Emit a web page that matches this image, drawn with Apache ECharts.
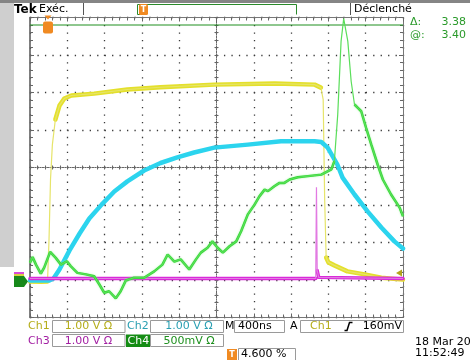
<!DOCTYPE html>
<html><head><meta charset="utf-8">
<script src="https://cdn.jsdelivr.net/npm/echarts@6/dist/echarts.min.js"></script>
<style>html,body{margin:0;padding:0;background:#fff}#c{width:470px;height:360px}</style>
</head><body><div id="c"></div>
<script>
// Screen coordinates in divisions from the graticule centre (x: -5..5, y: -4..4)
const ch1 = [[-5,-3.04],[-4.7,-3.05],[-4.53,-3.04],[-4.49,-1.92],[-4.45,-0.32],[-4.40,0.61],[-4.32,1.28],[-4.21,1.65],[-4.08,1.84],[-3.89,1.92],[-3.28,1.97],[-2.39,2.08],[-1.50,2.14],[-0.06,2.21],[1.56,2.24],[2.63,2.21],[2.80,2.13],[2.86,1.81],[2.90,-0.85],[2.94,-2.40],[3.0,-2.53],[3.16,-2.61],[3.51,-2.77],[3.97,-2.85],[4.42,-2.94],[5,-2.99]];
const ch2 = [[-5,-3.01],[-4.48,-3.01],[-4.37,-2.96],[-4.21,-2.72],[-3.94,-2.21],[-3.67,-1.76],[-3.41,-1.36],[-3.08,-0.99],[-2.74,-0.64],[-2.39,-0.37],[-1.94,-0.08],[-1.50,0.12],[-1.05,0.27],[-0.60,0.40],[-0.06,0.53],[0.84,0.61],[1.73,0.70],[2.63,0.70],[2.81,0.68],[2.98,0.53],[3.24,0.08],[3.38,-0.27],[3.70,-0.72],[4.05,-1.17],[4.42,-1.60],[4.77,-1.97],[5,-2.16]];
const ch3 = [[-5,-2.96],[2.66,-2.96],[2.68,-0.53],[2.70,-2.75],[2.74,-2.93],[5,-2.96]];
const ch4 = [[-5,-2.54],[-4.93,-2.39],[-4.84,-2.59],[-4.71,-2.83],[-4.62,-2.67],[-4.46,-2.25],[-4.31,-2.41],[-4.17,-2.59],[-4.01,-2.50],[-3.91,-2.63],[-3.73,-2.81],[-3.50,-2.85],[-3.28,-2.90],[-3.14,-3.12],[-3.01,-3.34],[-2.88,-3.30],[-2.70,-3.49],[-2.57,-3.30],[-2.43,-3.01],[-2.21,-2.94],[-1.94,-2.94],[-1.67,-2.77],[-1.45,-2.59],[-1.31,-2.32],[-1.13,-2.51],[-0.96,-2.45],[-0.73,-2.72],[-0.55,-2.45],[-0.42,-2.27],[-0.24,-2.14],[-0.11,-1.97],[0.03,-2.14],[0.17,-2.27],[0.35,-2.10],[0.53,-1.97],[0.66,-1.70],[0.84,-1.25],[1.02,-0.99],[1.15,-0.77],[1.29,-0.59],[1.38,-0.63],[1.55,-0.50],[1.69,-0.41],[1.82,-0.41],[1.96,-0.32],[2.18,-0.26],[2.45,-0.23],[2.81,-0.19],[3.08,-0.05],[3.16,0.17],[3.25,1.41],[3.34,3.37],[3.41,3.97],[3.52,3.37],[3.61,2.30],[3.70,1.68],[3.79,1.59],[3.88,1.50],[4.01,1.06],[4.15,0.61],[4.32,0.08],[4.46,-0.32],[4.68,-0.72],[4.91,-1.07],[5,-1.30]];
const cursorLevel = 3.8;
const xRange = [-5, 5];
const yRange = [-4, 4];

function band(data, maxSlope) {
  const out = [data[0]];
  for (let i = 1; i < data.length; i++) {
    const a = data[i-1], b = data[i];
    const s = Math.abs((b[1]-a[1]) / ((b[0]-a[0]) || 1e-6));
    if (s > maxSlope) out.push([(a[0]+b[0])/2, null]);
    out.push(b);
  }
  return out;
}

const F = 'DejaVu Sans';
const chart = echarts.init(document.getElementById('c'), null, {renderer:'canvas'});
const dotted = {color:'#3a3a3a', width:1.3, type:[1.3,6.16]};
const tk = {color:'#666'};
function xAx(extra){return Object.assign({type:'value',min:xRange[0],max:xRange[1],interval:1,axisLabel:{show:false},splitLine:{show:false}},extra);}
function yAx(extra){return Object.assign({type:'value',min:yRange[0],max:yRange[1],interval:1,axisLabel:{show:false},splitLine:{show:false}},extra);}

function mk(name, data, color, thinColor, w, slope, z, extra) {
  return [
    Object.assign({name:name, type:'line', data:band(data, slope), showSymbol:false, symbol:'none', xAxisIndex:0, yAxisIndex:0, z:z,
      lineStyle:{color:color, width:w, join:'round', cap:'round'}}, extra||{}),
    {name:name+'e', type:'line', data:data, showSymbol:false, symbol:'none', xAxisIndex:0, yAxisIndex:0, z:z,
      lineStyle:{color:thinColor, width:1.2}}
  ];
}

const series = [
  {name:'cursor', type:'line', data:[[xRange[0],cursorLevel],[xRange[1],cursorLevel]], showSymbol:false, symbol:'none', z:1, lineStyle:{color:'#1f8f1f', width:1}}
].concat(
  mk('Ch1', ch1, '#e4e02c', '#e6e46a', 4.5, 5, 2),
  mk('Ch2', ch2, '#2cd4ee', '#2cd4ee', 4.5, 5, 3),
  mk('Ch3', ch3, '#d92ad9', '#e27ae2', 3.5, 5, 4),
  mk('Ch4', ch4, '#34d834', '#5ade5a', 2.5, 5, 5, {
    lineStyle:{color:'#34d834', width:2.5, shadowColor:'rgba(150,240,150,0.7)', shadowBlur:2}
  })
);

function T(x,y,text,color,opts){return Object.assign({type:'text',x:x,y:y,style:Object.assign({text:text,fill:color||'#000',font:'11px "'+F+'"',textVerticalAlign:'middle'},opts||{})});}
function R(x,y,w,h,fill,stroke){return {type:'rect',shape:{x:x,y:y,width:w,height:h},style:{fill:fill||'none',stroke:stroke||null,lineWidth:1}};}
function L(pts,color,w){return {type:'polyline',shape:{points:pts},style:{stroke:color,lineWidth:w||1,fill:null}};}

const graphic = [
  R(0,0,14,267,'#cfcfcf'),
  R(0,0,470,3,'#858585'),
  T(14,9.5,'Tek','#000',{font:'bold 12px "'+F+'"'}),
  T(39,9.5,'Exéc.','#000'),
  L([[83.5,3],[83.5,15]],'#555',1),
  L([[140,14.5],[137.5,14.5],[137.5,4.5],[296.5,4.5],[296.5,14.5]],'#2a8a2a',1),
  {type:'rect',shape:{x:139,y:4,width:9,height:11,r:1.5},style:{fill:'#f08a22'}},
  T(143.5,9.8,'T','#fff',{font:'bold 8px "'+F+'"',textAlign:'center'}),
  L([[350.5,3],[350.5,15]],'#555',1),
  T(354,9.5,'Déclenché','#000'),
  T(410,22.5,'Δ:','#2a9a2a'),
  T(466,22.5,'3.38','#2a9a2a',{textAlign:'right'}),
  T(410,35,'@:','#2a9a2a'),
  T(466,35,'3.40','#2a9a2a',{textAlign:'right'}),
  // trigger position marker
  {type:'polygon',shape:{points:[[44.5,15.5],[51.5,15.5],[48,19.5]]},style:{fill:'#f08a22'},z:20},
  {type:'rect',shape:{x:43,y:21.5,width:10,height:12,r:2},style:{fill:'#f08a22'},z:20},
  T(48,27.8,'T','#fff',{font:'bold 9px "'+F+'"',textAlign:'center'}),
  // ground markers
  R(14,272,10,2,'#d94ad9'),
  R(14,274,10,2,'#d8d040'),
  {type:'polygon',shape:{points:[[14,276],[24,276],[28,281.5],[24,287],[14,287]]},style:{fill:'#17891a'},z:20},
  T(19.5,281.8,'4','#fff',{font:'bold 10px "'+F+'"',textAlign:'center'}),
  // trigger level arrow
  {type:'polygon',shape:{points:[[396,273],[402,269.5],[402,276.5]]},style:{fill:'#b3a41c'},z:20},
  // bottom readouts
  T(28,326.5,'Ch1','#b5ad1a'),
  R(52.5,320.5,72.5,12,null,'#9a9a9a'),
  T(88.5,326.5,'1.00 V Ω','#b5ad1a',{textAlign:'center'}),
  T(127,326.5,'Ch2','#2a9fb2'),
  R(150.5,320.5,73,12,null,'#9a9a9a'),
  T(189,326.5,'1.00 V Ω','#2a9fb2',{textAlign:'center'}),
  T(225,326.5,'M','#000'),
  R(234.5,320.5,50,12,null,'#9a9a9a'),
  T(238,326.5,'400ns','#000'),
  T(290,326.5,'A','#000'),
  R(300.5,320.5,103,12,null,'#9a9a9a'),
  T(310,326.5,'Ch1','#b5ad1a'),
  L([[344.5,330.5],[347,330.5],[349.5,322.5],[352.5,322.5]],'#000',1.5),
  T(402,326.5,'160mV','#000',{textAlign:'right'}),
  T(28,341,'Ch3','#a21ea2'),
  R(52.5,334.5,72.5,12,null,'#9a9a9a'),
  T(88.5,341,'1.00 V Ω','#a21ea2',{textAlign:'center'}),
  R(126,334.5,24,12.5,'#148c14'),
  T(127.5,341,'Ch4','#fff'),
  R(150.5,334.5,73,12,null,'#9a9a9a'),
  T(189,341,'500mV Ω','#1f901f',{textAlign:'center'}),
  R(227,349,10,11,'#f08a22'),
  T(232,354.5,'T','#fff',{font:'bold 8px "'+F+'"',textAlign:'center'}),
  R(238.5,348.5,57,13,null,'#9a9a9a'),
  T(241,354.5,'4.600 %','#000'),
  T(415,342.5,'18 Mar 2006','#000'),
  T(415,353.5,'11:52:49','#000')
];

const centerLine = {color:'#666',width:1,type:[1,1.5]};
chart.setOption({
  animation:false,
  backgroundColor:'#fff',
  grid:{left:30,top:17.5,width:373,height:300,containLabel:false},
  xAxis:[
    xAx({position:'bottom',axisLine:{onZero:true,onZeroAxisIndex:0,lineStyle:centerLine},axisTick:{show:true,inside:true,length:2,lineStyle:tk},minorTick:{show:true,splitNumber:5,length:2,lineStyle:tk},splitLine:{show:true,lineStyle:dotted}}),
    xAx({position:'bottom',axisLine:{onZero:true,onZeroAxisIndex:0,lineStyle:centerLine},axisTick:{show:true,inside:false,length:2,lineStyle:tk},minorTick:{show:true,splitNumber:5,length:2,lineStyle:tk}}),
    xAx({position:'bottom',axisLine:{onZero:false,lineStyle:{color:'#777',width:1}},axisTick:{show:true,inside:true,length:4,lineStyle:tk},minorTick:{show:true,splitNumber:5,length:3,lineStyle:tk}}),
    xAx({position:'top',axisLine:{onZero:false,lineStyle:{color:'#777',width:1}},axisTick:{show:true,inside:true,length:4,lineStyle:tk},minorTick:{show:true,splitNumber:5,length:3,lineStyle:tk}})
  ],
  yAxis:[
    yAx({position:'left',axisLine:{onZero:true,onZeroAxisIndex:0,lineStyle:centerLine},axisTick:{show:true,inside:true,length:2,lineStyle:tk},minorTick:{show:true,splitNumber:5,length:2,lineStyle:tk},splitLine:{show:true,lineStyle:dotted}}),
    yAx({position:'left',axisLine:{onZero:true,onZeroAxisIndex:0,lineStyle:centerLine},axisTick:{show:true,inside:false,length:2,lineStyle:tk},minorTick:{show:true,splitNumber:5,length:2,lineStyle:tk}}),
    yAx({position:'left',axisLine:{onZero:false,lineStyle:{color:'#555',width:1.5}},axisTick:{show:true,inside:true,length:4,lineStyle:tk},minorTick:{show:true,splitNumber:5,length:3,lineStyle:tk}}),
    yAx({position:'right',axisLine:{onZero:false,lineStyle:{color:'#777',width:1}},axisTick:{show:true,inside:true,length:4,lineStyle:tk},minorTick:{show:true,splitNumber:5,length:3,lineStyle:tk}})
  ],
  series:series,
  graphic:graphic
});
</script></body></html>
